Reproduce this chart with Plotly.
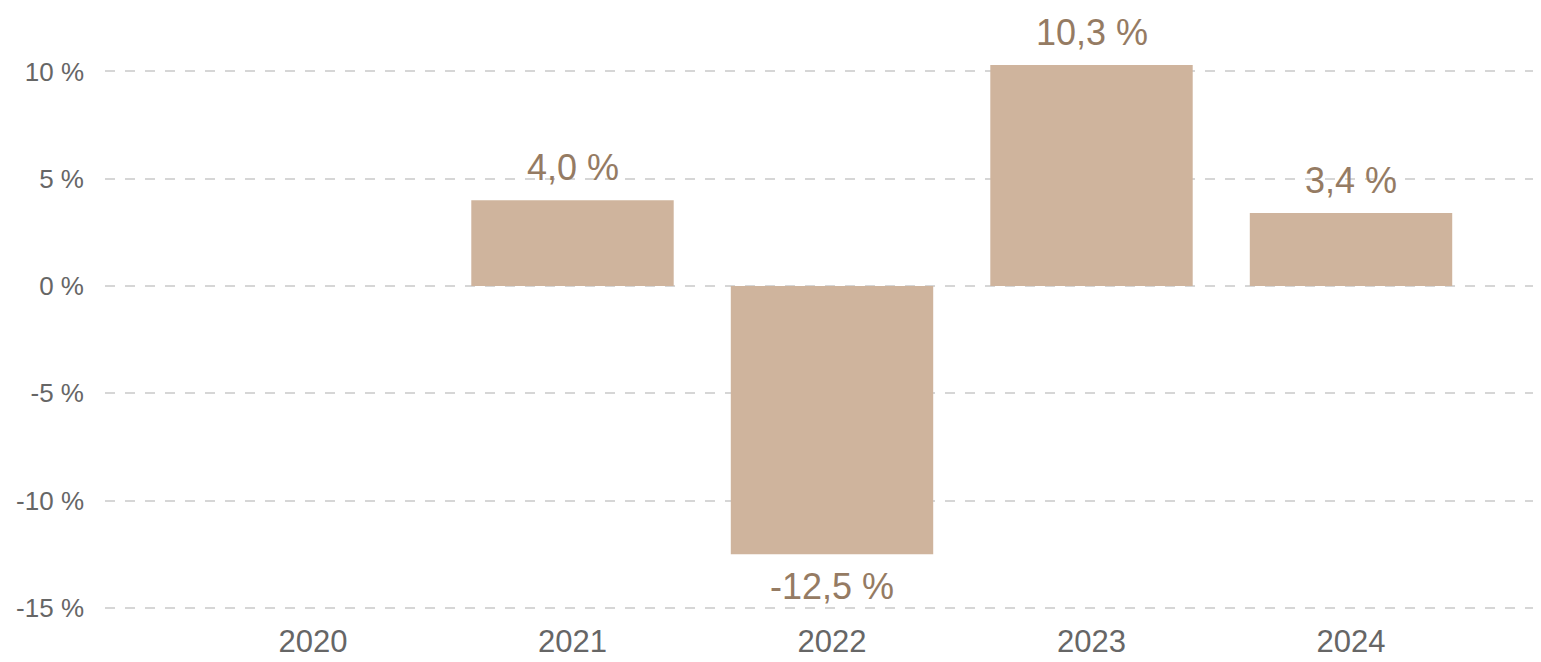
import plotly.graph_objects as go

years = ["2020", "2021", "2022", "2023", "2024"]
growth = [None, 4.0, -12.5, 10.3, 3.4]
y_ticks = [-15, -10, -5, 0, 5, 10]
y_tick_labels = ["-15 %", "-10 %", "-5 %", "0 %", "5 %", "10 %"]

BAR_COLOR = "#cfb49d"
LABEL_COLOR = "#957b63"
TICK_COLOR = "#666666"
FONT = "Arial, Liberation Sans, sans-serif"

fig = go.Figure()
fig.add_trace(go.Bar(
    x=years, y=growth, marker=dict(color=BAR_COLOR, line=dict(width=0)),
    width=0.78, hoverinfo="skip", showlegend=False,
))

def fmt(v):
    return f"{v:.1f}".replace(".", ",") + " %"

annotations = []
for i, v in enumerate(growth):
    if v is None:
        continue
    annotations.append(dict(
        x=i, y=v, xref="x", yref="y", text=fmt(v), showarrow=False,
        xanchor="center",
        yanchor="bottom" if v >= 0 else "top",
        yshift=10 if v >= 0 else -10,
        font=dict(family=FONT, size=36, color=LABEL_COLOR),
    ))

fig.update_layout(
    width=1533, height=654,
    margin=dict(l=97, r=6, t=42, b=52, autoexpand=False),
    paper_bgcolor="white", plot_bgcolor="white",
    font=dict(family=FONT),
    annotations=annotations,
    xaxis=dict(
        type="category", range=[-0.8015, 4.709],
        showgrid=False, showline=False, zeroline=False,
        tickfont=dict(family=FONT, size=31, color=TICK_COLOR),
        ticks="", ticklabelstandoff=10,
    ),
    yaxis=dict(
        range=[-15.1, 11], tickvals=y_ticks, ticktext=y_tick_labels,
        showgrid=True, gridcolor="#d6d6d6", gridwidth=2, griddash="10px,10px",
        zeroline=False, showline=False,
        tickfont=dict(family=FONT, size=26, color=TICK_COLOR),
        ticks="", ticklabelstandoff=20,
    ),
)

fig.write_html("out.html")
